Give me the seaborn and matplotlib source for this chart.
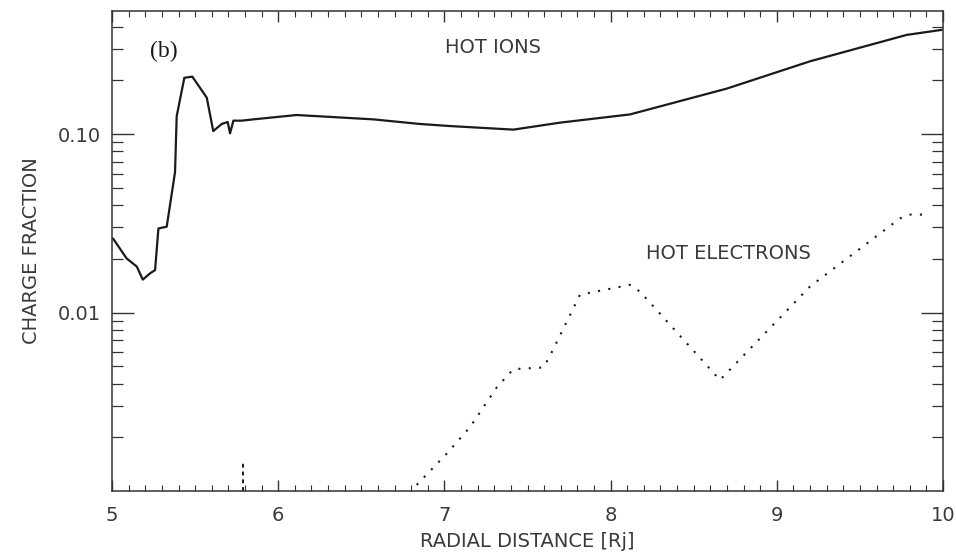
import matplotlib
matplotlib.use("Agg")
import matplotlib.pyplot as plt
import seaborn as sns
import pandas as pd
import numpy as np
from matplotlib.ticker import LogLocator, NullFormatter, FixedLocator, MultipleLocator

# Data
ion_r = [5.006, 5.088, 5.149, 5.185, 5.229, 5.259, 5.279, 5.329, 5.379, 5.389, 5.435,
         5.483, 5.529, 5.570, 5.609, 5.660, 5.696, 5.710, 5.730, 5.780, 5.850,
         6.111, 6.572, 6.853, 7.034, 7.415, 7.696, 8.117, 8.699, 9.200, 9.782, 9.992]
ion_f = [0.026, 0.0201, 0.0181, 0.0153, 0.0166, 0.0173, 0.0296, 0.0303, 0.0612, 0.126, 0.207,
         0.210, 0.182, 0.160, 0.104, 0.114, 0.117, 0.101, 0.119, 0.119, 0.121,
         0.128, 0.121, 0.114, 0.111, 0.106, 0.116, 0.129, 0.180, 0.256, 0.360, 0.384]

ele_r = [6.79, 6.853, 7.014, 7.154, 7.315, 7.415, 7.595, 7.635, 7.816, 8.117, 8.177,
         8.658, 9.200, 9.741, 9.801, 9.902]
ele_f = [0.00098, 0.00113, 0.00162, 0.00228, 0.00381, 0.00482, 0.00492, 0.00572, 0.0126,
         0.0143, 0.0131, 0.00419, 0.0140, 0.0337, 0.0354, 0.0354]

spike_r = [5.79, 5.79]
spike_f = [0.00100, 0.00143]

xticks = [5, 6, 7, 8, 9, 10]
yticks = [0.01, 0.10]
ytick_labels = ["0.01", "0.10"]

sns.set_style("ticks")
plt.rcParams['font.family'] = ['DejaVu Sans']

fig = plt.figure(figsize=(9.56, 5.58), dpi=100)
ax = fig.add_axes([0.1172, 0.1201, 0.8692, 0.8602])

ink = "#1a1a1a"
txt = "#3a3a3a"
df_ion = pd.DataFrame({"r": ion_r, "f": ion_f})
df_ele = pd.DataFrame({"r": ele_r, "f": ele_f})
df_spk = pd.DataFrame({"r": spike_r, "f": spike_f})

sns.lineplot(data=df_ion, x="r", y="f", ax=ax, color=ink, linewidth=1.6,
             estimator=None, sort=False)
sns.lineplot(data=df_ele, x="r", y="f", ax=ax, color=ink, linewidth=1.5,
             linestyle=(0, (1, 4)), estimator=None, sort=False)
sns.lineplot(data=df_spk, x="r", y="f", ax=ax, color=ink, linewidth=1.4,
             linestyle=(0, (2, 2)), estimator=None, sort=False)

ax.set_yscale("log")
ax.set_xlim(5, 10)
ax.set_ylim(0.001, 0.49)

ax.set_xticks(xticks)
ax.set_xticklabels([str(t) for t in xticks])
ax.xaxis.set_minor_locator(MultipleLocator(0.1))
ax.yaxis.set_major_locator(FixedLocator(yticks))
ax.set_yticklabels(ytick_labels)
ax.yaxis.set_minor_locator(LogLocator(base=10, subs=np.arange(2, 10)))
ax.yaxis.set_minor_formatter(NullFormatter())

ax.tick_params(axis="both", which="both", direction="in", top=True, right=True,
               colors="#333333", labelcolor=txt, labelsize=14)
ax.tick_params(axis="y", which="major", length=16, width=1.0, pad=8)
ax.tick_params(axis="y", which="minor", length=8, width=0.9)
ax.tick_params(axis="x", which="major", length=8, width=1.0, pad=11)
ax.tick_params(axis="x", which="minor", length=4, width=0.8)

for s in ax.spines.values():
    s.set_color("#333333")
    s.set_linewidth(1.1)

ax.set_xlabel("RADIAL DISTANCE [Rj]", fontsize=14, color=txt, labelpad=5)
ax.set_ylabel("CHARGE FRACTION", fontsize=14, color=txt, labelpad=12)

ax.text(5.31, 0.29, "(b)", family="Liberation Serif", fontsize=17, color=ink,
        ha="center", va="center")
ax.text(7.29, 0.305, "HOT IONS", fontsize=14, color=txt, ha="center", va="center")
ax.text(8.71, 0.0215, "HOT ELECTRONS", fontsize=14, color=txt, ha="center", va="center")

fig.savefig("out.png", dpi=100)
